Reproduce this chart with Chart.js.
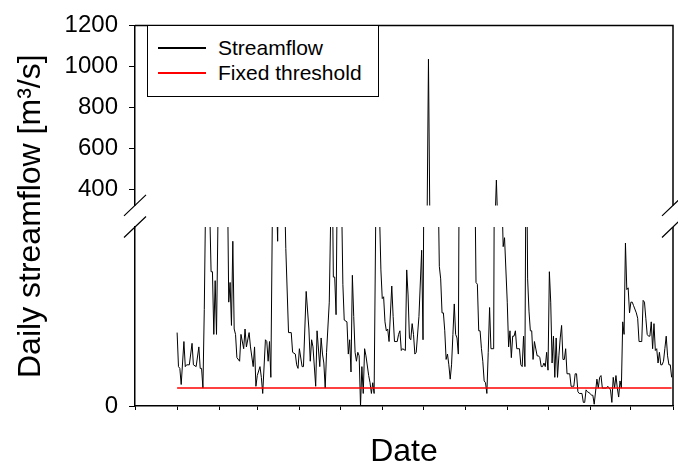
<!DOCTYPE html>
<html>
<head>
<meta charset="utf-8">
<script src="https://cdn.jsdelivr.net/npm/chart.js@4.4.0/dist/chart.umd.min.js"></script>
<style>
  body { margin: 0; background: #fff; }
  #wrap { position: relative; width: 678px; height: 472px; }
  #legend {
    position: absolute; left: 147px; top: 25px; width: 232px; height: 72px;
    box-sizing: border-box; border: 1px solid #000; background: #fff;
    padding-top: 9px; font: 21px "Liberation Sans", Arial, sans-serif; color: #000;
  }
  .item { display: flex; align-items: center; height: 25.5px; }
  .swatch { display: inline-block; width: 48px; height: 2px; margin-left: 10px; margin-right: 12px; }
</style>
</head>
<body>
<div id="wrap">
  <canvas id="chart" width="678" height="472"></canvas>
  <div id="legend"></div>
</div>
<script>
  // x axis: days counted from 1 Dec of the year before; ticks on month starts
  var monthTicks = [0, 31, 62, 90, 121, 151, 182, 212, 243, 274, 304, 335, 365, 396];
  var upperTicks = [400, 600, 800, 1000, 1200];
  var lowerTicks = [0];

  var days = [
    31, 32, 33, 34, 36, 37, 38, 39, 40, 42,
    43, 45, 47, 48, 49, 50, 51, 53, 56, 57,
    58, 59, 60, 63, 68, 69, 70, 71, 72, 73,
    74, 75, 77, 78, 80, 81, 82, 84, 85, 87,
    88, 89, 90, 92, 93, 94, 96, 97, 98, 99,
    100, 102, 105, 107, 111, 113, 115, 116, 118, 119,
    120, 121, 123, 124, 125, 126, 128, 129, 130, 131,
    133, 134, 136, 137, 138, 139, 140, 141, 143, 145,
    146, 147, 148, 150, 153, 154, 156, 157, 158, 159,
    160, 161, 162, 163, 164, 165, 166, 167, 168, 169,
    170, 172, 173, 174, 175, 176, 178, 181, 182, 183,
    184, 185, 186, 187, 189, 190, 191, 193, 194, 195,
    196, 197, 199, 200, 201, 202, 203, 204, 205, 206,
    207, 209, 211, 212, 213, 215, 216, 217, 218, 220,
    222, 223, 224, 225, 226, 227, 228, 229, 230, 231,
    232, 233, 234, 235, 236, 237, 238, 239, 242, 246,
    250, 251, 252, 253, 254, 255, 256, 257, 258, 259,
    260, 261, 262, 264, 265, 266, 267, 268, 270, 271,
    272, 274, 275, 276, 277, 278, 279, 280, 281, 283,
    284, 285, 286, 287, 288, 289, 290, 291, 292, 293,
    294, 296, 297, 298, 299, 300, 301, 302, 303, 304,
    305, 306, 307, 308, 309, 310, 311, 312, 313, 314,
    315, 316, 317, 318, 320, 321, 322, 323, 324, 325,
    326, 327, 329, 330, 331, 332, 333, 335, 336, 337,
    338, 340, 341, 342, 343, 344, 346, 347, 348, 350,
    351, 352, 353, 354, 355, 356, 357, 358, 359, 360,
    361, 362, 363, 364, 365, 366, 367, 369, 370, 371,
    373, 374, 375, 376, 377, 378, 379, 380, 381, 382,
    383, 384, 385, 386, 387, 388, 389, 390, 391, 392,
    393, 394, 395
  ];

  var flow = [
    41, 22, 21, 12, 36, 22, 23, 23, 23, 35,
    23, 22, 33, 21, 21, 10, 54, 180, 75, 75,
    40, 70, 40, 220, 130, 58, 69, 45, 92, 43,
    40, 27, 25, 40, 32, 43, 33, 41, 33, 22,
    33, 11, 17, 22, 16, 7, 37, 36, 25, 36,
    16, 180, 92, 230, 88, 41, 41, 30, 29, 23,
    21, 32, 22, 22, 43, 64, 43, 25, 37, 33,
    11, 42, 22, 38, 29, 24, 10, 30, 58, 150,
    72, 72, 51, 220, 68, 48, 47, 29, 37, 19,
    73, 50, 30, 25, 30, 28, 0, 22, 7, 32,
    28, 17, 13, 7, 13, 7, 170, 76, 60, 61,
    47, 42, 43, 36, 67, 50, 36, 36, 40, 42,
    31, 32, 31, 76, 62, 38, 37, 46, 40, 29,
    30, 50, 87, 37, 180, 250, 1035, 260, 190, 150,
    200, 130, 78, 71, 52, 52, 42, 26, 29, 23,
    15, 23, 40, 57, 40, 38, 29, 200, 150, 230,
    140, 69, 68, 42, 42, 32, 25, 14, 13, 7,
    30, 55, 32, 32, 240, 444, 230, 180, 120, 89,
    94, 58, 33, 42, 27, 39, 39, 42, 32, 32,
    23, 22, 39, 22, 170, 71, 53, 42, 42, 26,
    36, 28, 28, 27, 22, 22, 24, 22, 30, 20,
    75, 58, 24, 39, 16, 38, 16, 28, 38, 45,
    26, 26, 32, 18, 18, 11, 11, 11, 18, 18,
    8, 7, 7, 2, 2, 9, 8, 7, 6, 6,
    1, 15, 10, 16, 17, 10, 10, 10, 11, 9,
    2, 16, 10, 17, 10, 5, 14, 10, 47, 40,
    91, 65, 66, 52, 58, 58, 56, 52, 49, 36,
    36, 59, 58, 49, 40, 39, 39, 47, 32, 46,
    31, 32, 24, 30, 23, 23, 25, 32, 39, 28,
    23, 23, 16
  ];

  var threshold = 10;

  var flowColor = '#000000';
  var thresholdColor = '#ff0000';
  var fontFamily = '"Liberation Sans", Arial, sans-serif';

  var flowPoints = days.map(function (d, i) { return { x: d, y: flow[i] }; });
  var thresholdPoints = [
    { x: days[0], y: threshold },
    { x: days[days.length - 1], y: threshold }
  ];

  function tickList(list) {
    return function (scale) {
      scale.ticks = list.map(function (v) { return { value: v }; });
    };
  }
  function plainLabel(v) { return String(v); }
  function fixWidth(scale) { scale.width = 135; }

  // each dataset only paints inside its own piece of the broken y axis
  var segmentClip = {
    id: 'segmentClip',
    beforeDatasetDraw: function (chart, args) {
      var scale = chart.scales[args.meta.yAxisID];
      var a = chart.chartArea;
      var ctx = chart.ctx;
      ctx.save();
      ctx.beginPath();
      ctx.rect(a.left, scale.top - 1, a.right - a.left, scale.bottom - scale.top + 2);
      ctx.clip();
    },
    afterDatasetDraw: function (chart) {
      chart.ctx.restore();
    }
  };

  // top + right frame and the break marks
  var frame = {
    id: 'frame',
    afterDraw: function (chart) {
      var ctx = chart.ctx;
      var a = chart.chartArea;
      var hi = chart.scales.yHigh;
      var lo = chart.scales.yLow;
      ctx.save();
      ctx.strokeStyle = '#000';
      ctx.lineWidth = 1.5;
      ctx.beginPath();
      ctx.moveTo(a.left, hi.top);
      ctx.lineTo(a.right, hi.top);
      ctx.lineTo(a.right, hi.bottom);
      ctx.moveTo(a.right, lo.top);
      ctx.lineTo(a.right, lo.bottom);
      ctx.stroke();
      ctx.lineWidth = 1.2;
      ctx.beginPath();
      [a.left, a.right].forEach(function (x) {
        [hi.bottom, lo.top].forEach(function (y) {
          ctx.moveTo(x - 11, y + 10.5);
          ctx.lineTo(x + 11, y - 10.5);
        });
      });
      ctx.stroke();
      ctx.restore();
    }
  };

  var axisBorder = { display: true, color: '#000', width: 1.5 };
  var tickFont = { family: fontFamily, size: 24 };

  var chart = new Chart(document.getElementById('chart'), {
    type: 'line',
    data: {
      datasets: [
        { label: 'Streamflow', data: flowPoints, yAxisID: 'yLow', borderColor: flowColor, borderWidth: 1, pointRadius: 0, swatch: flowColor },
        { label: 'Streamflow', data: flowPoints, yAxisID: 'yHigh', borderColor: flowColor, borderWidth: 1, pointRadius: 0 },
        { label: 'Fixed threshold', data: thresholdPoints, yAxisID: 'yLow', borderColor: thresholdColor, borderWidth: 1.5, pointRadius: 0, order: -1, swatch: thresholdColor }
      ]
    },
    options: {
      responsive: false,
      animation: false,
      layout: { padding: { top: 17, right: 5, left: 0, bottom: 0 } },
      plugins: { legend: { display: false }, tooltip: { enabled: false } },
      scales: {
        x: {
          type: 'linear', min: 0, max: 396,
          afterBuildTicks: tickList(monthTicks),
          afterFit: function (s) { s.height = 66; },
          ticks: { display: false },
          grid: { drawOnChartArea: false, tickLength: 4, color: '#000', lineWidth: 1 },
          border: axisBorder,
          title: { display: true, text: 'Date', color: '#000', font: { family: fontFamily, size: 32 }, padding: { top: 0, bottom: 1 } }
        },
        yLow: {
          type: 'linear', position: 'left', stack: 'flow', stackWeight: 183,
          min: 0, max: 100,
          afterBuildTicks: tickList(lowerTicks),
          afterFit: fixWidth,
          ticks: { color: '#000', font: tickFont, padding: 11, autoSkip: false, callback: plainLabel },
          grid: { drawOnChartArea: false, tickLength: 6, color: '#000', lineWidth: 1 },
          border: axisBorder
        },
        yGap: {
          type: 'linear', position: 'left', stack: 'flow', stackWeight: 22,
          afterFit: fixWidth,
          ticks: { display: false },
          grid: { display: false },
          border: { display: false },
          title: { display: true, text: 'Daily streamflow [m³/s]', color: '#000', font: { family: fontFamily, size: 32 }, padding: { top: 12, bottom: 0 } }
        },
        yHigh: {
          type: 'linear', position: 'left', stack: 'flow', stackWeight: 184,
          min: 320, max: 1200,
          afterBuildTicks: tickList(upperTicks),
          afterFit: fixWidth,
          ticks: { color: '#000', font: tickFont, padding: 11, autoSkip: false, callback: plainLabel },
          grid: { drawOnChartArea: false, tickLength: 6, color: '#000', lineWidth: 1 },
          border: axisBorder
        }
      }
    },
    plugins: [segmentClip, frame]
  });

  // legend box, built from the datasets that carry a swatch colour
  var legendEl = document.getElementById('legend');
  chart.data.datasets.forEach(function (ds) {
    if (!ds.swatch) return;
    var row = document.createElement('div');
    row.className = 'item';
    var sw = document.createElement('span');
    sw.className = 'swatch';
    sw.style.background = ds.swatch;
    var txt = document.createElement('span');
    txt.textContent = ds.label;
    row.appendChild(sw);
    row.appendChild(txt);
    legendEl.appendChild(row);
  });
</script>
</body>
</html>
